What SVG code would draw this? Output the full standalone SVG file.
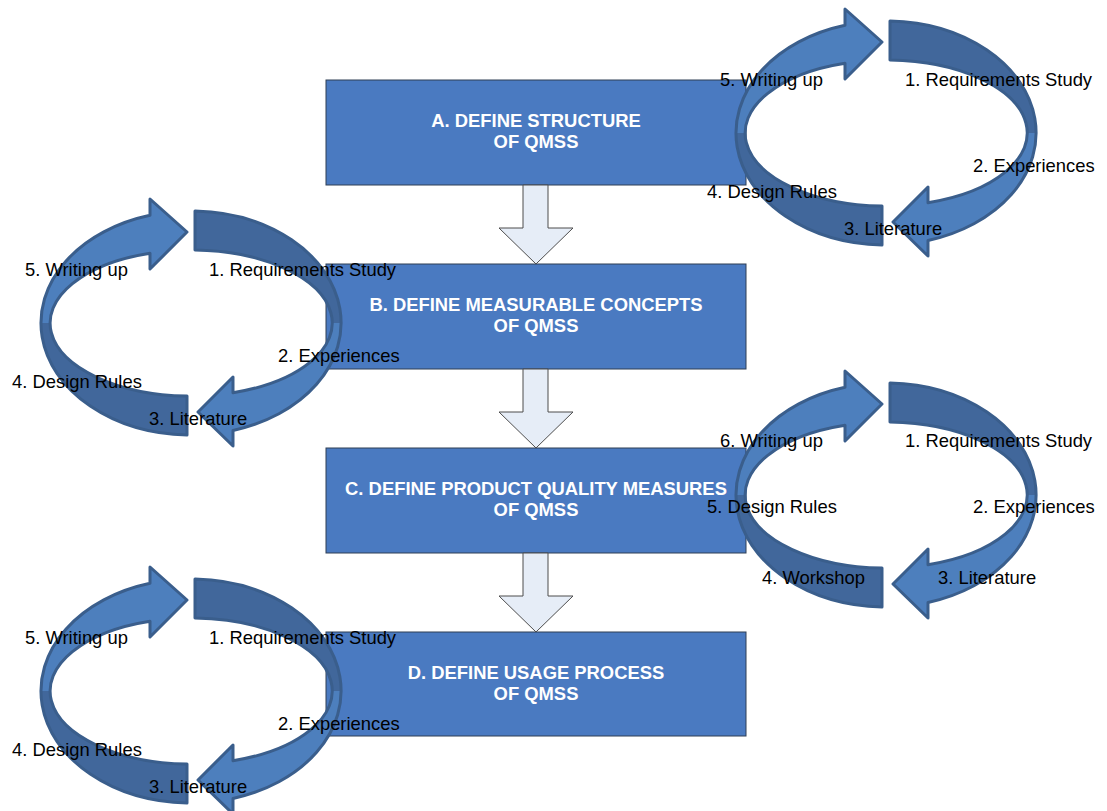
<svg xmlns="http://www.w3.org/2000/svg" xmlns:xlink="http://www.w3.org/1999/xlink" width="1107" height="811" viewBox="0 0 1107 811">
<style>
.box{fill:#4A7AC1;stroke:#2F3F55;stroke-width:1}
.btxt{font-family:"Liberation Sans",Arial,sans-serif;font-weight:bold;font-size:18.4px;fill:#FFFFFF;text-anchor:middle}
.lbl{font-family:"Liberation Sans",Arial,sans-serif;font-size:18.4px;fill:#000000}
.down{fill:#E6EDF7;stroke:#4D4D4D;stroke-width:1}
.ring path{stroke:#3A5E8C;stroke-width:3;stroke-linejoin:round}
</style>
<defs>
<linearGradient id="gDL" gradientUnits="userSpaceOnUse" x1="0" y1="-130" x2="0" y2="130">
<stop offset="0" stop-color="#41679B"/><stop offset="0.5" stop-color="#41679B"/>
<stop offset="0.5" stop-color="#4D7FBD"/><stop offset="1" stop-color="#4D7FBD"/>
</linearGradient>
<linearGradient id="gLD" gradientUnits="userSpaceOnUse" x1="0" y1="-130" x2="0" y2="130">
<stop offset="0" stop-color="#4D7FBD"/><stop offset="0.5" stop-color="#4D7FBD"/>
<stop offset="0.5" stop-color="#41679B"/><stop offset="1" stop-color="#41679B"/>
</linearGradient>
<g id="ringShape" class="ring">
<path fill="url(#gDL)" d="M 4,-112 A 150 112 0 0 1 42,107.5 L 42,123 L 7,89 L 42,54 L 42,69.7 A 141 73 0 0 0 4,-73 Z"/>
<path fill="url(#gLD)" d="M -4,112 A 150 112 0 0 1 -41,-107.7 L -41,-124 L -4,-91 L -41,-54 L -41,-69.8 A 141 73 0 0 0 -4,73 Z"/>
</g>
</defs>

<g id="box-a"><rect class="box" x="326" y="80" width="420" height="105"/>
<text class="btxt" x="536" y="127">A. DEFINE STRUCTURE</text><text class="btxt" x="536" y="148">OF QMSS</text></g>
<g id="box-b"><rect class="box" x="326" y="264" width="420" height="105"/>
<text class="btxt" x="536" y="311">B. DEFINE MEASURABLE CONCEPTS</text><text class="btxt" x="536" y="332">OF QMSS</text></g>
<g id="box-c"><rect class="box" x="326" y="448" width="420" height="105"/>
<text class="btxt" x="536" y="495">C. DEFINE PRODUCT QUALITY MEASURES</text><text class="btxt" x="536" y="516">OF QMSS</text></g>
<g id="box-d"><rect class="box" x="326" y="632" width="420" height="104"/>
<text class="btxt" x="536" y="679">D. DEFINE USAGE PROCESS</text><text class="btxt" x="536" y="700">OF QMSS</text></g>

<g id="connectors">
<path class="down" d="M 523,185 L 548,185 L 548,228 L 573,228 L 536,264 L 499,228 L 523,228 Z"/>
<path class="down" d="M 523,369 L 548,369 L 548,412 L 573,412 L 536,448 L 499,412 L 523,412 Z"/>
<path class="down" d="M 523,553 L 548,553 L 548,596 L 573,596 L 536,632 L 499,596 L 523,596 Z"/>
</g>

<g id="cycle-a"><use xlink:href="#ringShape" transform="translate(886,133)"/>
<text class="lbl" x="720" y="86">5. Writing up</text>
<text class="lbl" x="905" y="86">1. Requirements Study</text>
<text class="lbl" x="973" y="172">2. Experiences</text>
<text class="lbl" x="707" y="198">4. Design Rules</text>
<text class="lbl" x="844" y="235">3. Literature</text></g>

<g id="cycle-b"><use xlink:href="#ringShape" transform="translate(191,323)"/>
<text class="lbl" x="25" y="276">5. Writing up</text>
<text class="lbl" x="209" y="276">1. Requirements Study</text>
<text class="lbl" x="278" y="362">2. Experiences</text>
<text class="lbl" x="12" y="388">4. Design Rules</text>
<text class="lbl" x="149" y="425">3. Literature</text></g>

<g id="cycle-c"><use xlink:href="#ringShape" transform="translate(886,495)"/>
<text class="lbl" x="720" y="447">6. Writing up</text>
<text class="lbl" x="905" y="447">1. Requirements Study</text>
<text class="lbl" x="973" y="513">2. Experiences</text>
<text class="lbl" x="707" y="513">5. Design Rules</text>
<text class="lbl" x="762" y="584">4. Workshop</text>
<text class="lbl" x="938" y="584">3. Literature</text></g>

<g id="cycle-d"><use xlink:href="#ringShape" transform="translate(191,691)"/>
<text class="lbl" x="25" y="644">5. Writing up</text>
<text class="lbl" x="209" y="644">1. Requirements Study</text>
<text class="lbl" x="278" y="730">2. Experiences</text>
<text class="lbl" x="12" y="756">4. Design Rules</text>
<text class="lbl" x="149" y="793">3. Literature</text></g>
</svg>
